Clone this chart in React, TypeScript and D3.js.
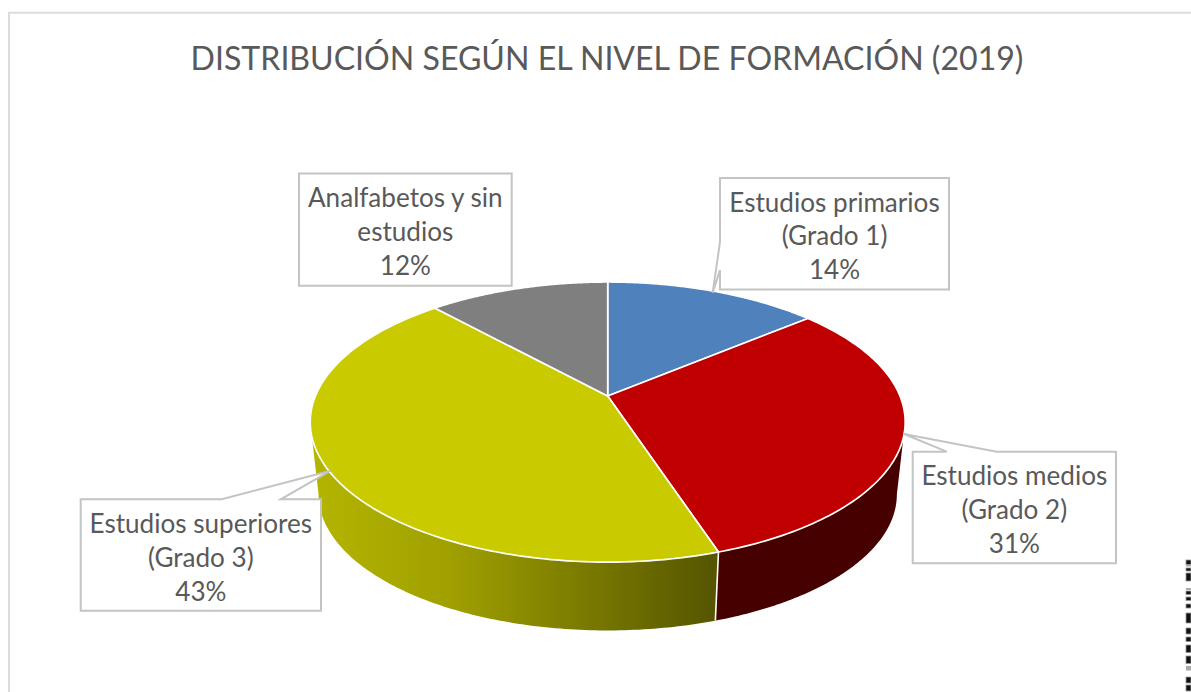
import React from "react";
import * as d3 from "d3";

const W = 1191, H = 692;
const titleText = "DISTRIBUCIÓN SEGÚN EL NIVEL DE FORMACIÓN (2019)";
const categories = ["Estudios primarios (Grado 1)", "Estudios medios (Grado 2)", "Estudios superiores (Grado 3)", "Analfabetos y sin estudios"];
const values = [13.9, 31.05, 43.3, 11.75];
const topColors = ["#4f81bd", "#c00000", "#c9cb00", "#7f7f7f"];
const labelLines = [
  ["Estudios primarios", "(Grado 1)", "14%"],
  ["Estudios medios", "(Grado 2)", "31%"],
  ["Estudios superiores", "(Grado 3)", "43%"],
  ["Analfabetos y sin", "estudios", "12%"],
];
const labelBoxes = [
  { x0: 720, y0: 178, x1: 949, y1: 289.5, tip: [712.7, 292.7], a: [720, 242], b: [720, 270] },
  { x0: 912.7, y0: 451.7, x1: 1116, y1: 563.3, tip: [904, 434], a: [946.7, 451.7], b: [996.7, 451.7] },
  { x0: 80.7, y0: 499.3, x1: 321, y1: 610.7, tip: [330.7, 470.7], a: [221.7, 499.3], b: [280.7, 499.3] },
  { x0: 299, y0: 173.5, x1: 511.7, y1: 285.7, tip: null, a: null, b: null },
];
const stripeRows = [[560,4.5],[568,3],[573,8],[591,3.5],[597,3.5],[604,4],[613,10],[628,6],[637,4.5],[645,7.5],[656,7.5],[677,6],[685,6]];
const faintRows = [[565,1.5],[588,2],[666,4.5]];

const k = 0.186, A = 135.2, B = 292.3;
const cx = 607.7, topApex = 396, botApex = 469, botScale = 0.972;
const project = (t: number, apex: number, s: number): [number, number] => {
  const X = Math.sin(t), Y = -Math.cos(t), d = 1 - k * Y;
  return [cx + (s * B * X) / d, apex + (s * A * Y) / d];
};
const pieGen = d3.pie<number>().sort(null).value((d) => d).startAngle(0).endAngle(2 * Math.PI);
const arcs = pieGen(values);
const samples = (a: number, b: number) => d3.range(0, 121).map((i) => a + ((b - a) * i) / 120);
const line = d3.line();
const silhouetteR = Math.acos(-k);
const silhouetteL = 2 * Math.PI - silhouetteR;

const wall = (a: number, b: number) => {
  const s = samples(a, b);
  return line([...s.map((t) => project(t, topApex, 1)), ...s.slice().reverse().map((t) => project(t, botApex, botScale))]) + "Z";
};
const slice = (a: number, b: number) =>
  line([[cx, topApex], ...samples(a, b).map((t) => project(t, topApex, 1))]) + "Z";

export default function App() {
  const fontFamily = "Lato, sans-serif";
  const redEnd = arcs[1].endAngle;
  return (
    <svg width={W} height={H} style={{ position: "absolute", left: 0, top: 0 }}>
      <defs>
        <linearGradient id="yw" gradientUnits="userSpaceOnUse" x1={312} x2={716} y1={0} y2={0}>
          <stop offset="0" stopColor="#b4b500" />
          <stop offset="0.35" stopColor="#9f9f00" />
          <stop offset="1" stopColor="#555500" />
        </linearGradient>
      </defs>
      <rect width={W} height={H} fill="#fff" />
      <path d={`M9 ${H}V12.8H${W}`} fill="none" stroke="#dcdcdc" strokeWidth={2} />
      <text x={607} y={70} textAnchor="middle" fontFamily={fontFamily} fontSize={32.1} fill="#595959">{titleText}</text>

      <path d={wall(silhouetteR, redEnd)} fill="#470000" />
      <path d={wall(redEnd, silhouetteL)} fill="url(#yw)" />
      <path d={line([project(redEnd, topApex, 1), project(redEnd, botApex, botScale)])!} stroke="#fff" strokeWidth={1.6} fill="none" />
      {arcs.map((a, i) => (
        <path key={categories[i]} d={slice(a.startAngle, a.endAngle)} fill={topColors[i]} stroke="#fff" strokeWidth={1.7} strokeLinejoin="round" />
      ))}

      {labelBoxes.map((b, i) => {
        const path = b.tip
          ? i === 0
            ? `M${b.x0} ${b.y0}H${b.x1}V${b.y1}H${b.x0}V${b.b![1]}L${b.tip[0]} ${b.tip[1]}L${b.a![0]} ${b.a![1]}Z`
            : `M${b.x0} ${b.y0}H${b.a![0]}L${b.tip[0]} ${b.tip[1]}L${b.b![0]} ${b.b![1]}H${b.x1}V${b.y1}H${b.x0}Z`
          : `M${b.x0} ${b.y0}H${b.x1}V${b.y1}H${b.x0}Z`;
        const mid = (b.x0 + b.x1) / 2;
        return (
          <g key={i}>
            <path d={path} fill="#fff" stroke="#c4c4c4" strokeWidth={2} />
            {labelLines[i].map((t, j) => (
              <text key={j} x={mid} y={b.y0 + 33.5 + j * 33.9} textAnchor="middle" fontFamily={fontFamily} fontSize={26.1} fill="#595959">{t}</text>
            ))}
          </g>
        );
      })}
      {stripeRows.map(([y, h], i) => (
        <rect key={i} x={1186} y={y} width={5} height={h} fill="#111" stroke="#999" strokeWidth={0.8} />
      ))}
      {faintRows.map(([y, h], i) => (
        <rect key={i} x={1186} y={y} width={5} height={h} fill="#aaa" />
      ))}
    </svg>
  );
}
